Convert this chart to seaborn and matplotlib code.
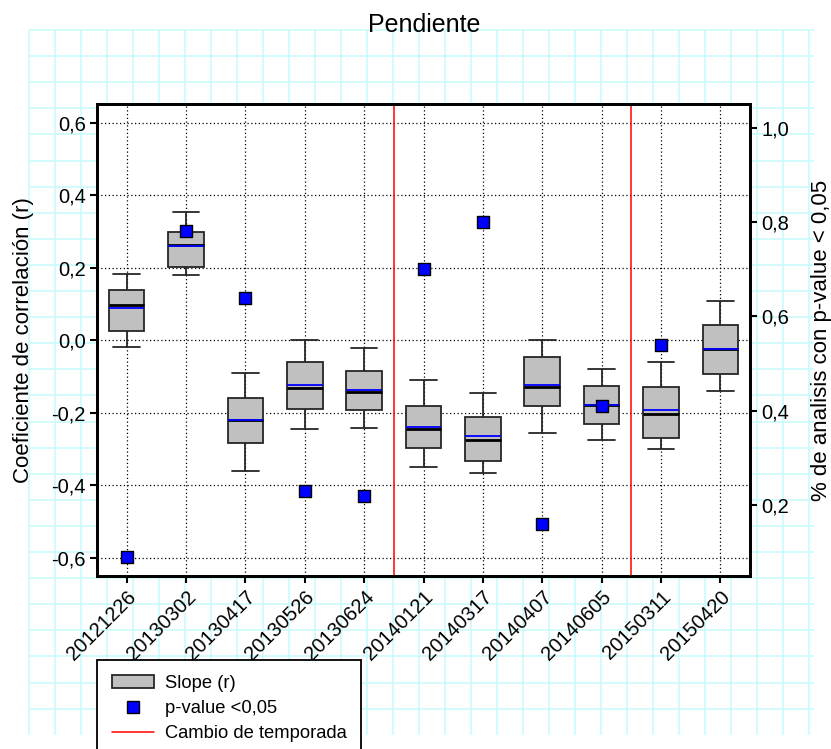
import numpy as np
import pandas as pd
import matplotlib
matplotlib.use("Agg")
import matplotlib.pyplot as plt
import seaborn as sns
from matplotlib.patches import Patch
from matplotlib.lines import Line2D

# Datos
fechas = ["20121226", "20130302", "20130417", "20130526", "20130624", "20140121",
          "20140317", "20140407", "20140605", "20150311", "20150420"]
bigote_inf = [-0.019, 0.179, -0.359, -0.244, -0.243, -0.349, -0.366, -0.256, -0.274, -0.299, -0.140]
q1 = [0.026, 0.203, -0.284, -0.190, -0.191, -0.298, -0.332, -0.181, -0.230, -0.269, -0.093]
mediana = [0.097, 0.262, -0.221, -0.131, -0.142, -0.244, -0.275, -0.130, -0.177, -0.204, -0.024]
q3 = [0.139, 0.300, -0.158, -0.061, -0.085, -0.180, -0.212, -0.045, -0.127, -0.129, 0.043]
bigote_sup = [0.184, 0.355, -0.090, 0.000, -0.022, -0.109, -0.145, 0.000, -0.078, -0.061, 0.109]
media = [0.089, 0.259, -0.221, -0.124, -0.138, -0.239, -0.264, -0.123, -0.177, -0.191, -0.023]
pct_sig = [0.09, 0.78, 0.64, 0.23, 0.22, 0.70, 0.80, 0.16, 0.41, 0.54, np.nan]
# ultima fecha de cada temporada (cambio despues de ella)
fin_temporada = ["20130624", "20140605"]

yticks_izq = [-0.6, -0.4, -0.2, 0.0, 0.2, 0.4, 0.6]
yticks_der = [0.2, 0.4, 0.6, 0.8, 1.0]

sns.set_style("ticks")
plt.rcParams.update({
    "font.family": ["Liberation Sans", "DejaVu Sans"],
    "text.color": "black",
    "axes.labelcolor": "black",
    "xtick.color": "black",
    "ytick.color": "black",
})

W, H = 831, 749
fig = plt.figure(figsize=(W / 100, H / 100), dpi=100)

# papel cuadriculado de fondo
bg = fig.add_axes([0, 0, 1, 1], zorder=-5)
bg.set_xlim(0, W)
bg.set_ylim(H, 0)
bg.axis("off")
bg.vlines(np.arange(29.3, 812, 26.0), 30, 735, color="#C8FAFA", lw=1.1)
bg.hlines(np.arange(30, 712, 26.1), 29.3, 814, color="#C8FAFA", lw=1.1)

ax = fig.add_axes([97 / W, 1 - 576 / H, 653 / W, 472 / H])
ax.set_facecolor("white")

rows = []
for i, f in enumerate(fechas):
    for v in (bigote_inf[i], q1[i], mediana[i], q3[i], bigote_sup[i]):
        rows.append((f, v))
df = pd.DataFrame(rows, columns=["fecha", "r"])

sns.boxplot(
    data=df, x="fecha", y="r", order=fechas, whis=(0, 100), width=0.6,
    color="#C0C0C0", linecolor="#262626", linewidth=1.3, saturation=1,
    medianprops={"color": "black", "linewidth": 2},
    capwidths=0.45, ax=ax,
)

pos = np.arange(len(fechas))
ax.hlines(media, pos - 0.3, pos + 0.3, colors="#0000FF", lw=1.3, zorder=3)

for f in fin_temporada:
    ax.axvline(fechas.index(f) + 0.5, color="red", lw=1.1, zorder=2)

ax.set_ylim(-0.65, 0.652)
ax.set_yticks(yticks_izq)
ax.set_yticklabels([f"{v:.1f}".replace(".", ",") for v in yticks_izq])
ax.grid(True, axis="both", linestyle=(0, (1, 2)), color="black", lw=0.9)
ax.set_axisbelow(True)
ax.set_xlabel("")
ax.set_ylabel("Coeficiente de correlación (r)", fontsize=16)
ax.yaxis.set_label_coords(-0.096, 0.5)
ax.set_xticks(pos)
ax.set_xticklabels(fechas, rotation=45, ha="right", va="top", rotation_mode="anchor")
ax.tick_params(axis="both", labelsize=14.5, direction="out", length=5, width=1.5, pad=3)

ax2 = ax.twinx()
sns.scatterplot(x=pos, y=pct_sig, marker="s", s=72, color="#0000FF",
                edgecolor="black", linewidth=1, ax=ax2, zorder=5)
ax2.set_ylim(0.05, 1.05)
ax2.set_yticks(yticks_der)
ax2.set_yticklabels([f"{v:.1f}".replace(".", ",") for v in yticks_der])
ax2.set_ylabel("% de analisis con p-value < 0,05", fontsize=16)
ax2.yaxis.set_label_coords(1.094, 0.5)
ax2.tick_params(axis="y", labelsize=14.5, direction="out", length=5, width=1.5, pad=3)
ax.set_xlim(-0.5, len(fechas) - 0.5)

for a in (ax, ax2):
    for s in a.spines.values():
        s.set_visible(True)
        s.set_linewidth(2)
        s.set_color("black")

fig.text(424 / W, 1 - 32 / H, "Pendiente", ha="center", va="baseline", fontsize=18)

handles = [
    Patch(facecolor="#C0C0C0", edgecolor="#262626", linewidth=1.3),
    Line2D([], [], marker="s", linestyle="none", markersize=9,
           markerfacecolor="#0000FF", markeredgecolor="black"),
    Line2D([], [], color="red", lw=1.1),
]
labels = ["Slope (r)", "p-value <0,05", "Cambio de temporada"]
leg = fig.legend(handles, labels, loc="upper left",
                 bbox_to_anchor=(97 / W, 1 - 660 / H), bbox_transform=fig.transFigure,
                 borderaxespad=0, fontsize=13.2, frameon=True, fancybox=False,
                 framealpha=1, edgecolor="black", borderpad=0.8,
                 handlelength=2.3, handletextpad=0.6, labelspacing=0.45)
leg.get_frame().set_linewidth(1.3)

fig.savefig("out.png", dpi=100)
